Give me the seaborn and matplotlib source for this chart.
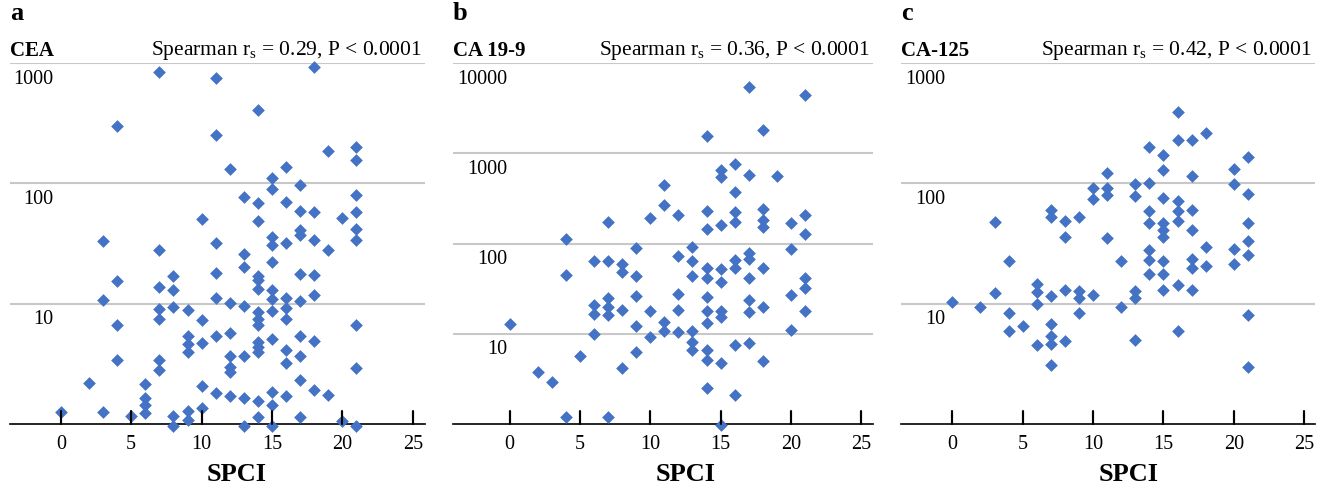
import matplotlib
matplotlib.use("Agg")
import matplotlib.pyplot as plt
from matplotlib.lines import Line2D
import seaborn as sns
import pandas as pd

# panel a - CEA
cea_spci = [0, 2, 3, 3, 3, 4, 4, 4, 4, 5, 6, 6, 6, 6,
            7, 7, 7, 7, 7, 7, 7, 8, 8, 8, 8, 8, 9, 9, 9, 9, 9, 9,
            10, 10, 10, 10, 10, 11, 11, 11, 11, 11, 11, 11,
            12, 12, 12, 12, 12, 12, 12, 13, 13, 13, 13, 13, 13, 13,
            14, 14, 14, 14, 14, 14, 14, 14, 14, 14, 14, 14, 14, 14,
            15, 15, 15, 15, 15, 15, 15, 15, 15, 15, 15, 15,
            16, 16, 16, 16, 16, 16, 16, 16, 16,
            17, 17, 17, 17, 17, 17, 17, 17, 17, 17,
            18, 18, 18, 18, 18, 18, 18, 19, 19, 19, 20, 20,
            21, 21, 21, 21, 21, 21, 21, 21, 21]
cea_values = [1.25, 2.2, 33, 10.7, 1.27, 300, 15.3, 6.7, 3.4, 1.16, 2.15, 1.65, 1.45, 1.23,
              841, 28, 13.8, 9.1, 7.4, 3.4, 2.8, 17, 12.9, 9.3, 1.16, 0.97, 8.9, 5.4, 4.6, 4.0, 1.28, 1.07,
              51, 7.3, 4.7, 2.08, 1.35, 750, 251, 32, 17.9, 11.1, 5.4, 1.81,
              131, 10.2, 5.7, 3.7, 3.0, 2.7, 1.7, 77, 26, 20, 9.6, 3.7, 1.65, 0.97,
              403, 68, 49, 16.9, 15.8, 13.3, 8.5, 7.5, 6.6, 4.8, 4.4, 4.0, 1.56, 1.15,
              111, 90, 36, 30.6, 22, 12.9, 10.9, 8.7, 5.1, 1.86, 1.44, 0.97,
              136, 69.5, 32, 11.1, 9.2, 7.5, 4.1, 3.2, 1.7,
              96, 59, 40.8, 37, 17.8, 10.5, 5.4, 3.7, 2.3, 1.15,
              926, 58, 34, 17.2, 11.7, 4.9, 1.92, 184, 27.8, 1.75, 52, 1.05,
              200, 155, 80, 58, 42, 34, 6.7, 2.9, 0.97]

# panel b - CA 19-9
ca199_spci = [0, 2, 3, 4, 4, 4, 5, 6, 6, 6, 6, 7, 7, 7, 7, 7, 7,
              8, 8, 8, 8, 9, 9, 9, 9, 9, 10, 10, 10, 11, 11, 11, 11,
              12, 12, 12, 12, 12, 13, 13, 13, 13, 13, 13,
              14, 14, 14, 14, 14, 14, 14, 14, 14, 14, 14,
              15, 15, 15, 15, 15, 15, 15, 15, 15,
              16, 16, 16, 16, 16, 16, 16, 16,
              17, 17, 17, 17, 17, 17, 17, 17,
              18, 18, 18, 18, 18, 18, 18, 19, 20, 20, 20, 20,
              21, 21, 21, 21, 21, 21]
ca199_values = [12.7, 3.8, 2.9, 113, 44.7, 1.2, 5.6, 64, 21, 16.6, 10, 174, 64, 25, 20, 16, 1.2,
                60, 48.7, 18.3, 4.2, 90, 44, 26, 12.2, 6.2, 194, 18, 9.1, 441, 270, 13.4, 10.6,
                209, 73, 27.5, 18.3, 10.4, 92, 64, 43.5, 10.7, 8.1, 6.6,
                1549, 227, 146, 53, 41.8, 25.8, 18, 13, 6.6, 5.1, 2.5,
                657, 546, 160, 51.6, 37.7, 18, 15.5, 4.8, 0.97,
                753, 372, 224, 174, 65, 54, 7.5, 2.1,
                5380, 579, 79, 68, 41, 23.6, 17.6, 7.9,
                1832, 239, 181, 153, 54, 20, 5.0, 554, 169, 86, 26.8, 11,
                4430, 209, 126, 41, 32.4, 18]

# panel c - CA-125
ca125_spci = [0, 2, 3, 3, 4, 4, 4, 5, 6, 6, 6, 6, 7, 7, 7, 7, 7, 7, 7,
              8, 8, 8, 8, 9, 9, 9, 9, 10, 10, 10, 11, 11, 11, 11, 12, 12,
              13, 13, 13, 13, 13, 14, 14, 14, 14, 14, 14, 14,
              15, 15, 15, 15, 15, 15, 15, 15, 15,
              16, 16, 16, 16, 16, 16, 16, 17, 17, 17, 17, 17, 17, 17,
              18, 18, 18, 20, 20, 20, 20, 21, 21, 21, 21, 21, 21, 21]
ca125_values = [10.4, 9.3, 47.8, 12.3, 22.8, 8.4, 5.9, 6.5, 14.5, 12.6, 9.9, 4.5,
                60, 52.6, 11.6, 6.8, 5.4, 4.6, 3.1,
                49, 35.9, 12.9, 4.9, 53, 12.7, 11.2, 8.4, 91, 74, 11.8, 122, 91, 80, 34.8, 22.6, 9.3,
                99, 79, 12.7, 11.1, 5.0, 200, 100, 58.6, 46.9, 27.9, 23, 17.5,
                173, 130, 75.5, 46.9, 41.3, 35.9, 22.6, 17.7, 13,
                390, 227, 71.8, 58.6, 48.4, 14.3, 5.9, 227, 114, 60.4, 40.8, 23.3, 19.9, 13,
                264, 29.5, 20.5, 131, 99, 28.6, 21.4, 165, 82, 46.9, 33, 25.6, 8.1, 3.0]

panel_letters = ["a", "b", "c"]
marker_names = ["CEA", "CA 19-9", "CA-125"]
spearman_r = ["0.29", "0.36", "0.42"]
y_ticks = [[10, 100, 1000], [10, 100, 1000, 10000], [10, 100, 1000]]
x_ticks = [0, 5, 10, 15, 20, 25]

sns.set_style("white")
plt.rcParams["font.family"] = ["Liberation Serif", "DejaVu Serif"]
plt.rcParams["mathtext.fontset"] = "stix"
plt.rcParams["text.color"] = "black"
plt.rcParams["xtick.color"] = "black"
plt.rcParams["axes.labelcolor"] = "black"

W, H = 1334, 489
fig = plt.figure(figsize=(W / 100, H / 100), dpi=100)

# pixel extents of each panel and the x range they show
boxes = [(10, 425, -3.61, 25.87), (453, 873, -4.02, 25.83), (901, 1315, -3.64, 25.76)]
label_right = [0.104, 0.129, 0.106]
top_px, bottom_px = 64, 425
tick_len = 13 / (bottom_px - top_px)

blue = "#4472C4"
grid_col = "#c8c8c8"

datasets = [(cea_spci, cea_values), (ca199_spci, ca199_values), (ca125_spci, ca125_values)]

for i, (xs, ys) in enumerate(datasets):
    left, right, x0, x1 = boxes[i]
    ax = fig.add_axes([left / W, 1 - bottom_px / H, (right - left) / W, (bottom_px - top_px) / H])
    df = pd.DataFrame({"SPCI": xs, "value": ys})
    sns.scatterplot(data=df, x="SPCI", y="value", ax=ax, marker="D", color=blue,
                    s=42, linewidth=0, clip_on=False, zorder=3)
    ax.set_yscale("log")
    ax.set_ylim(1, y_ticks[i][-1])
    ax.set_xlim(x0, x1)
    ax.set_yticks(y_ticks[i])
    ax.set_yticklabels([])
    ax.minorticks_off()
    ax.tick_params(axis="y", length=0)
    ax.yaxis.grid(True, color=grid_col, lw=1.5)
    for t in y_ticks[i]:
        ax.annotate(str(t), xy=(label_right[i], t), xycoords=("axes fraction", "data"),
                    xytext=(0, -4), textcoords="offset points", ha="right", va="top", fontsize=14.5)
    ax.set_xticks(x_ticks)
    ax.tick_params(axis="x", bottom=True, direction="in", length=9.5, width=1.5,
                   pad=7, labelsize=14.5, color="black", labelcolor="black")
    # inward tick marks, also added at figure level so nothing hides them
    for xt in x_ticks:
        fig.add_artist(Line2D([xt, xt], [0, tick_len], transform=ax.get_xaxis_transform(),
                              color="black", lw=1.5, zorder=5))
    for s in ["top", "left", "right"]:
        ax.spines[s].set_visible(False)
    ax.spines["bottom"].set_color("black")
    ax.spines["bottom"].set_linewidth(1.2)
    ax.set_xlabel("")
    ax.set_ylabel("")
    ax.text(12.5, -0.155, "SPCI", transform=ax.get_xaxis_transform(), ha="center",
            va="baseline", fontsize=19, fontweight="bold")

    fig.text(left / W, 1 - 19.5 / H, panel_letters[i], fontsize=19, fontweight="bold", va="baseline")
    fig.text(left / W, 1 - 56 / H, marker_names[i], fontsize=15, fontweight="bold", va="baseline")
    fig.text((right - 3) / W, 1 - 55 / H,
             r"Spearman $\mathregular{r_s}$ = " + spearman_r[i] + ", P < 0.0001",
             fontsize=15.5, ha="right", va="baseline")

fig.savefig("out.png", dpi=100)
